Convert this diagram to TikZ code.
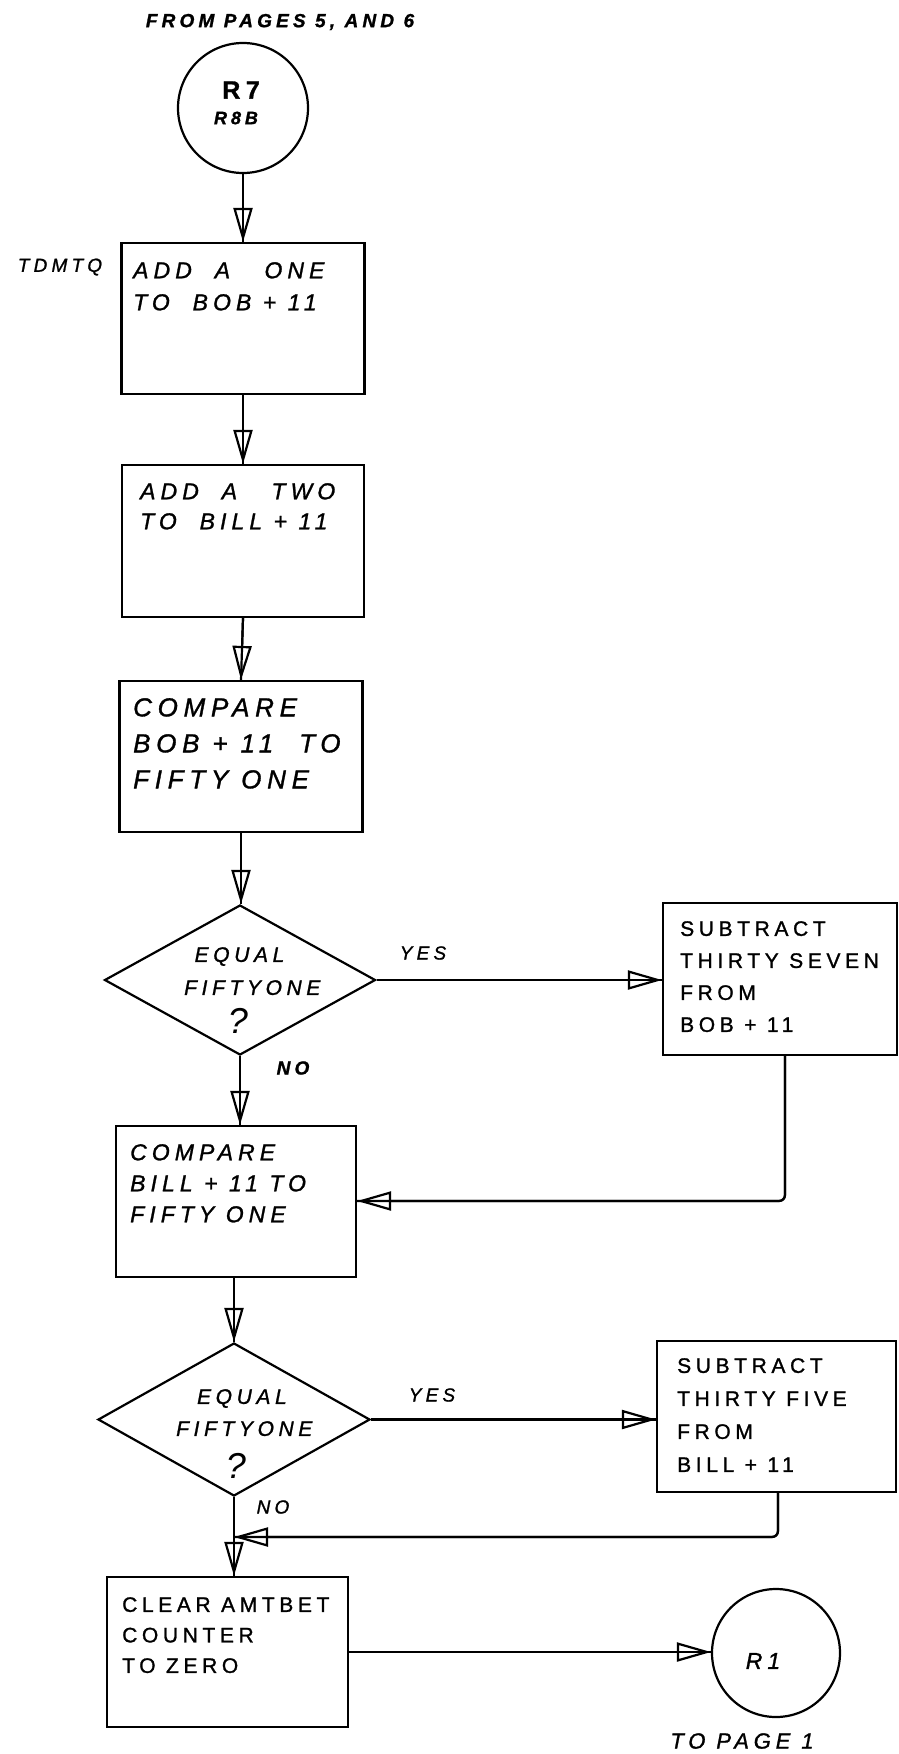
\documentclass[tikz,border=0pt]{standalone}
\usepackage{fontspec}
\setmainfont{Liberation Sans}
\newfontfamily\handfam[LetterSpace=22, FakeBold=1.2]{Liberation Sans}
\usetikzlibrary{arrows.meta,shapes.geometric}
\newcommand\handsz[2]{\handfam\fontsize{#1}{#2}\selectfont}
\tikzset{
  x=1pt, y=-1pt,
  ink/.style={line width=2.2pt},
  box/.style={draw, ink, rectangle, inner sep=0pt},
  conn/.style={draw, ink, circle, inner sep=0pt},
  dec/.style={draw, ink, diamond, inner sep=0pt, aspect=1.8},
  txt/.style={inner sep=0pt, anchor=north west, align=left},
  lbl/.style={inner sep=0pt},
  flow/.style={ink, postaction={draw, -{Triangle[open, length=34pt, width=19pt, line width=2.2pt]}}}
}
\begin{document}
\begin{tikzpicture}
\useasboundingbox (0,0) rectangle (898,1754);

% top connector
\node[lbl, font=\handsz{19}{22}\bfseries\itshape] (from) at (280,22) {FROM PAGES 5, AND 6};
\node[conn, minimum size=130pt] (c1) at (243,108) {};
\node[lbl, font=\handsz{25}{28}\bfseries] (c1a) at (241,90) {R7};
\node[lbl, font=\handsz{18}{22}\bfseries\itshape] (c1b) at (236,118) {R8B};

% boxes
\node[box, minimum width=243pt, minimum height=151pt] (b1) at (243,318.5) {};
\node[lbl, font=\handsz{19}{22}\itshape] (tdmtq) at (60,267) {TDMTQ};
\node[txt, font=\handsz{23}{32}\itshape] (b1t) at (133,262) {ADD\ \ A \ \ ONE\\TO \ BOB + 11};

\node[box, minimum width=242pt, minimum height=152pt] (b2) at (243,541) {};
\node[txt, font=\handsz{23}{30}\itshape] (b2t) at (140,483) {ADD \ A \ \ TWO\\TO \ BILL + 11};

\node[box, minimum width=243pt, minimum height=151pt] (b3) at (241,756.5) {};
\node[txt, font=\handsz{26}{36}\itshape] (b3t) at (133,698) {COMPARE\\BOB + 11 \ TO\\FIFTY ONE};

\node[dec, minimum width=271pt, minimum height=150pt] (d1) at (240,980) {};
\node[txt, font=\handsz{21}{33}\itshape] (d1t) at (184,947) {\ EQUAL\\FIFTYONE};
\node[lbl, font=\fontsize{36}{40}\selectfont\itshape] (d1q) at (238,1021) {?};
\node[lbl, font=\handsz{19}{22}\itshape] (yes1) at (423,953) {YES};
\node[lbl, font=\handsz{19}{22}\bfseries\itshape] (no1) at (293,1068) {NO};

\node[box, minimum width=234pt, minimum height=152pt] (b4) at (780,979) {};
\node[txt, font=\handsz{21}{32}] (b4t) at (680,921) {SUBTRACT\\THIRTY SEVEN\\FROM\\BOB + 11};

\node[box, minimum width=240pt, minimum height=151pt] (b5) at (236,1201.5) {};
\node[txt, font=\handsz{23}{31}\itshape] (b5t) at (130,1144) {COMPARE\\BILL + 11 TO\\FIFTY ONE};

\node[dec, minimum width=272pt, minimum height=153pt] (d2) at (234,1419.5) {};
\node[txt, font=\handsz{21}{32}\itshape] (d2t) at (176,1389) {\ \ EQUAL\\FIFTYONE};
\node[lbl, font=\fontsize{36}{40}\selectfont\itshape] (d2q) at (236,1466) {?};
\node[lbl, font=\handsz{19}{22}\itshape] (yes2) at (432,1395) {YES};
\node[lbl, font=\handsz{19}{22}\itshape] (no2) at (273,1507) {NO};

\node[box, minimum width=239pt, minimum height=151pt] (b6) at (776.5,1416.5) {};
\node[txt, font=\handsz{21}{33}] (b6t) at (677,1358) {SUBTRACT\\THIRTY FIVE\\FROM\\BILL + 11};

\node[box, minimum width=241pt, minimum height=150pt] (b7) at (227.5,1652) {};
\node[txt, font=\handsz{21}{30.5}] (b7t) at (122,1597) {CLEAR AMTBET\\COUNTER\\TO ZERO};

\node[conn, minimum size=128pt] (c2) at (776,1653) {};
\node[lbl, font=\handsz{23}{26}\itshape] (c2t) at (763,1661) {R1};
\node[lbl, font=\handsz{22}{26}\itshape] (topage) at (742,1741) {TO PAGE 1};

% junction coordinates
\coordinate (r1) at (785,1201);
\coordinate (r2) at (778,1537);
\coordinate (j) at (d2.south |- r2);

% connectors
\draw[flow] (c1.south) -- (b1.north);
\draw[flow] (b1.south) -- (b2.north);
\draw[flow] (b2.south) -- (b3.north);
\draw[flow] (b3.south) -- (b3.south |- d1.north);
\draw[flow] (d1.east) -- (b4.west |- d1.east);
\draw[flow] (d1.south) -- (d1.south |- b5.north);
\draw[flow, rounded corners=6pt] (b4.south -| r1) -- (r1) -- (r1 -| b5.east);
\draw[flow] (b5.south -| d2.north) -- (d2.north);
\draw[flow] (d2.east) -- (b6.west |- d2.east);
\draw[flow, rounded corners=6pt] (b6.south -| r2) -- (r2) -- (j);
\draw[flow] (d2.south) -- (d2.south |- b7.north);
\draw[flow] (b7.east) -- (b7.east -| c2.west);
\end{tikzpicture}
\end{document}
